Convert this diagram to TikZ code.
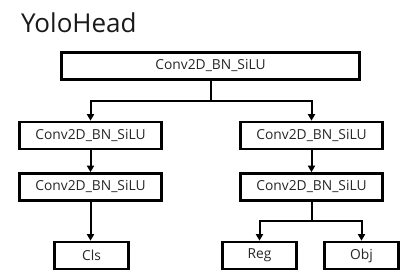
\documentclass[tikz,border=0pt]{standalone}
\usepackage{fontspec}
\setmainfont{Open Sans}
\usetikzlibrary{arrows.meta}
\begin{document}
\begin{tikzpicture}[x=1pt,y=-1pt,
  blk/.style={draw=black,line width=2.6pt,rectangle,inner sep=0pt,minimum height=27pt,
    font=\fontsize{13.8}{15}\selectfont,text=black!85},
  conn/.style={line width=2pt,draw=black},
  arr/.style={conn,-{Triangle[width=7pt,length=6.5pt]}}]
\useasboundingbox (0,0) rectangle (416,275);
\node[anchor=base west,inner sep=0pt,font=\fontsize{26}{30}\selectfont,text=black!90] (title) at (21,33) {YoloHead};
\node[blk,minimum width=298pt] (top) at (210.5,66) {Conv2D\_BN\_SiLU};
\node[blk,minimum width=142pt] (l1) at (90.5,135.5) {Conv2D\_BN\_SiLU};
\node[blk,minimum width=142pt] (r1) at (311.5,135.5) {Conv2D\_BN\_SiLU};
\node[blk,minimum width=142pt] (l2) at (90.5,187) {Conv2D\_BN\_SiLU};
\node[blk,minimum width=142pt] (r2) at (311.5,187) {Conv2D\_BN\_SiLU};
\node[blk,minimum width=74pt] (cls) at (91.5,255.5) {Cls};
\node[blk,minimum width=74pt] (reg) at (259.5,255.5) {Reg};
\node[blk,minimum width=74pt] (obj) at (361.5,255.5) {Obj};
\coordinate (j1) at (210.5,101);
\coordinate (j2) at (311.5,221);
\draw[conn] (top.south) -- (j1);
\draw[arr] (j1) -| (l1.north);
\draw[arr] (j1) -| (r1.north);
\draw[arr] (l1.south) -- (l2.north);
\draw[arr] (r1.south) -- (r2.north);
\draw[arr] (l2.south) -- (l2.south |- cls.north);
\draw[conn] (r2.south) -- (j2);
\draw[arr] (j2) -| (reg.north);
\draw[arr] (j2) -| (obj.north);
\end{tikzpicture}
\end{document}
